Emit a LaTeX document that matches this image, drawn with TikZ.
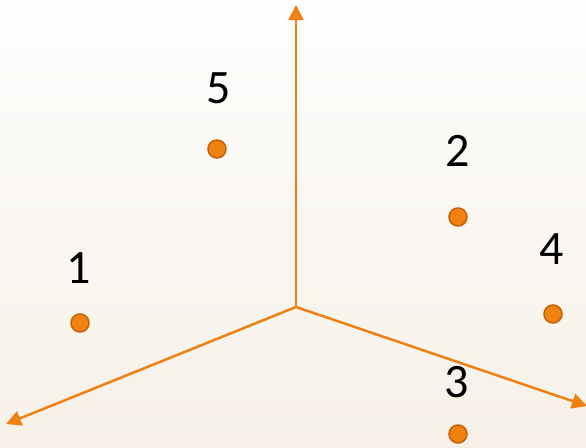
\documentclass[tikz,border=0pt]{standalone}
\usepackage{fontspec}
\setmainfont{Carlito}
\usetikzlibrary{arrows.meta}
\definecolor{axis}{RGB}{240,128,18}
\definecolor{dotfill}{RGB}{242,130,16}
\definecolor{dotline}{RGB}{196,96,6}
\definecolor{bgtop}{RGB}{254,254,253}
\definecolor{bgbot}{RGB}{246,240,232}
\tikzset{
  axisline/.style={draw=axis,line width=2.5pt,-{Triangle[length=15pt,width=15pt]}},
  pt/.style={circle,fill=dotfill,draw=dotline,line width=1.5pt,minimum size=18pt,inner sep=0pt},
  lab/.style={font=\fontsize{48}{52}\selectfont,text=black,inner sep=0pt}
}
\begin{document}
\begin{tikzpicture}[x=1pt,y=-1pt]
\shade[top color=bgtop,bottom color=bgbot] (0,0) rectangle (586,447);
\useasboundingbox (0,0) rectangle (586,447);
\coordinate (o) at (296,307);
\coordinate (up) at (296,5);
\coordinate (lt) at (6,424);
\coordinate (rt) at (587,406);
\draw[axisline] (o) -- (up);
\draw[axisline] (o) -- (lt);
\draw[axisline] (o) -- (rt);
\node[pt] (p5) at (217,149) {};
\node[pt] (p2) at (458,217) {};
\node[pt] (p4) at (553,314) {};
\node[pt] (p1) at (80,323) {};
\node[pt] (p3) at (458,434) {};
\node[lab] (l5) at (219,88) {5};
\node[lab] (l2) at (458,151) {2};
\node[lab] (l4) at (552,249) {4};
\node[lab] (l1) at (79,268) {1};
\node[lab] (l3) at (457,382) {3};
\end{tikzpicture}
\end{document}
